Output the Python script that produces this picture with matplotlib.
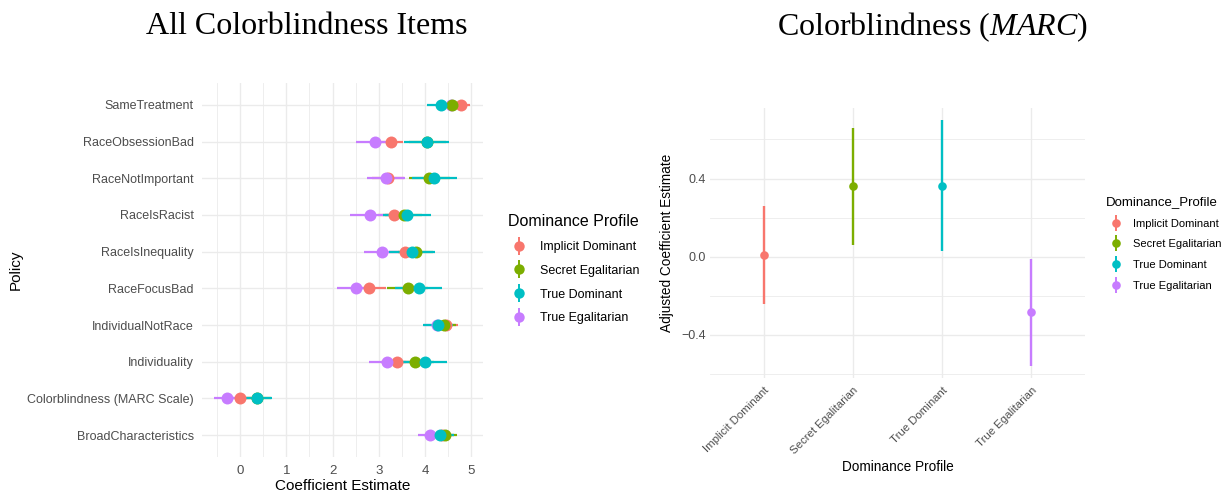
import matplotlib
matplotlib.use('Agg')
import matplotlib.pyplot as plt
from matplotlib.lines import Line2D
from matplotlib.legend_handler import HandlerTuple
from matplotlib.ticker import FixedLocator

plt.rcParams['font.family'] = ['Liberation Sans', 'DejaVu Sans']
plt.rcParams['mathtext.fontset'] = 'custom'
plt.rcParams['mathtext.rm'] = 'Liberation Serif'
plt.rcParams['mathtext.it'] = 'Liberation Serif:italic'

# ---------------- data ----------------
policies = ["SameTreatment", "RaceObsessionBad", "RaceNotImportant", "RaceIsRacist",
            "RaceIsInequality", "RaceFocusBad", "IndividualNotRace", "Individuality",
            "Colorblindness (MARC Scale)", "BroadCharacteristics"]
profiles = ["Implicit Dominant", "Secret Egalitarian", "True Dominant", "True Egalitarian"]
colors = ["#F8766D", "#7CAE00", "#00BFC4", "#C77CFF"]

est_implicit = [4.77, 3.26, 3.20, 3.33, 3.56, 2.78, 4.46, 3.40, 0.01, 4.37]
lo_implicit = [4.57, 3.00, 2.85, 2.98, 3.21, 2.41, 4.20, 3.05, -0.24, 4.12]
hi_implicit = [4.97, 3.52, 3.55, 3.68, 3.91, 3.15, 4.72, 3.75, 0.26, 4.62]

est_secret = [4.59, 4.05, 4.09, 3.54, 3.80, 3.62, 4.41, 3.79, 0.36, 4.43]
lo_secret = [4.37, 3.65, 3.65, 3.14, 3.42, 3.17, 4.16, 3.39, 0.06, 4.17]
hi_secret = [4.81, 4.45, 4.53, 3.94, 4.18, 4.07, 4.66, 4.19, 0.66, 4.69]

est_truedom = [4.35, 4.03, 4.20, 3.61, 3.71, 3.86, 4.28, 3.99, 0.36, 4.32]
lo_truedom = [4.03, 3.54, 3.71, 3.09, 3.21, 3.35, 3.95, 3.50, 0.03, 4.02]
hi_truedom = [4.67, 4.52, 4.69, 4.13, 4.21, 4.37, 4.61, 4.48, 0.70, 4.62]

est_trueegal = [4.55, 2.91, 3.15, 2.81, 3.06, 2.51, 4.25, 3.18, -0.28, 4.10]
lo_trueegal = [4.30, 2.51, 2.74, 2.38, 2.68, 2.10, 3.97, 2.78, -0.56, 3.85]
hi_trueegal = [4.80, 3.31, 3.56, 3.24, 3.44, 2.92, 4.53, 3.58, -0.01, 4.35]

marc_est = [0.01, 0.36, 0.36, -0.28]
marc_lo = [-0.24, 0.06, 0.03, -0.56]
marc_hi = [0.26, 0.66, 0.70, -0.01]

left_xticks = [0, 1, 2, 3, 4, 5]
right_yticks = [-0.4, 0.0, 0.4]
right_yticklabels = ["\u22120.4", "0.0", "0.4"]

series = {
    "Implicit Dominant": (est_implicit, lo_implicit, hi_implicit),
    "Secret Egalitarian": (est_secret, lo_secret, hi_secret),
    "True Dominant": (est_truedom, lo_truedom, hi_truedom),
    "True Egalitarian": (est_trueegal, lo_trueegal, hi_trueegal),
}
draw_order = ["Implicit Dominant", "True Egalitarian", "Secret Egalitarian", "True Dominant"]

GRID = "#EBEBEB"
TXT = "#4D4D4D"
W, H = 1228, 496

fig = plt.figure(figsize=(W / 100, H / 100), dpi=100)

# ---------------- left panel ----------------
axL = fig.add_axes([202 / W, 1 - 457 / H, 281 / W, 374 / H])
ypos = list(range(len(policies)))
for p in draw_order:
    i = profiles.index(p)
    e, lo, hi = series[p]
    axL.hlines(ypos, lo, hi, color=colors[i], lw=1.6, zorder=2)
for p in draw_order:
    i = profiles.index(p)
    e, lo, hi = series[p]
    axL.plot(e, ypos, 'o', color=colors[i], ms=8.6, mew=0, zorder=3)

axL.set_xlim(-0.82, 5.25)
axL.set_ylim(len(policies) - 0.4, -0.6)
axL.set_yticks(ypos)
axL.set_yticklabels(policies)
axL.xaxis.set_major_locator(FixedLocator(left_xticks))
axL.xaxis.set_minor_locator(FixedLocator([-0.5, 0.5, 1.5, 2.5, 3.5, 4.5]))
axL.grid(which='major', color=GRID, lw=1.0, zorder=0)
axL.grid(which='minor', axis='x', color=GRID, lw=0.6, zorder=0)
axL.set_axisbelow(True)
for s in axL.spines.values():
    s.set_visible(False)
axL.tick_params(which='both', length=0)
axL.tick_params(axis='x', labelsize=9.5, labelcolor=TXT, pad=6)
axL.tick_params(axis='y', labelsize=9, labelcolor=TXT, pad=6)
axL.set_xlabel("Coefficient Estimate", fontsize=11, labelpad=1)
axL.set_ylabel("Policy", fontsize=11, labelpad=3)

# ---------------- right panel ----------------
axR = fig.add_axes([710 / W, 1 - 378 / H, 375 / W, 270 / H])
xpos = [1, 2, 3, 4]
for i in range(len(profiles)):
    axR.vlines(xpos[i], marc_lo[i], marc_hi[i], color=colors[i], lw=1.7, zorder=2)
    axR.plot(xpos[i], marc_est[i], 'o', color=colors[i], ms=6.2, mew=0, zorder=3)
axR.set_xlim(0.4, 4.6)
axR.set_ylim(-0.62, 0.761)
axR.set_xticks(xpos)
axR.set_xticklabels(profiles, rotation=45, ha='right', va='top', rotation_mode='anchor')
axR.yaxis.set_major_locator(FixedLocator(right_yticks))
axR.set_yticklabels(right_yticklabels)
axR.yaxis.set_minor_locator(FixedLocator([-0.6, -0.2, 0.2, 0.6]))
axR.grid(which='major', color=GRID, lw=1.0, zorder=0)
axR.grid(which='minor', axis='y', color=GRID, lw=0.6, zorder=0)
axR.set_axisbelow(True)
for s in axR.spines.values():
    s.set_visible(False)
axR.tick_params(which='both', length=0)
axR.tick_params(axis='x', labelsize=8.2, labelcolor=TXT, pad=5)
axR.tick_params(axis='y', labelsize=9, labelcolor=TXT, pad=3)
axR.set_xlabel("Dominance Profile", fontsize=9.8, labelpad=3)
axR.set_ylabel("Adjusted Coefficient Estimate", fontsize=9.8, labelpad=5)

# ---------------- legends ----------------
def handles(ms_pt, bar_pt):
    hs = []
    for c in colors:
        bar = Line2D([], [], marker='|', ms=bar_pt, mew=1.4, color=c, ls='None')
        dot = Line2D([], [], marker='o', ms=ms_pt, mew=0, color=c, ls='None')
        hs.append((bar, dot))
    return hs

legL = fig.legend(handles(7.5, 13), profiles, loc='upper left',
                  bbox_to_anchor=(508 / W, 1 - 214 / H), frameon=False,
                  title="Dominance Profile", title_fontsize=11.5, fontsize=9,
                  alignment='left', handlelength=1.8, handletextpad=0.75,
                  labelspacing=0.95, borderpad=0, borderaxespad=0,
                  handler_map={tuple: HandlerTuple(ndivide=1)})

legR = fig.legend(handles(6.2, 11), profiles, loc='upper left',
                  bbox_to_anchor=(1106 / W, 1 - 196 / H), frameon=False,
                  title="Dominance_Profile", title_fontsize=9.5, fontsize=8,
                  alignment='left', handlelength=1.8, handletextpad=0.6,
                  labelspacing=0.96, borderpad=0, borderaxespad=0,
                  handler_map={tuple: HandlerTuple(ndivide=1)})

# ---------------- titles ----------------
fig.text(307 / W, 1 - 27 / H, "All Colorblindness Items", ha='center', va='center',
         family='Liberation Serif', fontsize=23)
fig.text(932 / W, 1 - 27 / H, r"Colorblindness ($\mathit{MARC}$)", ha='center', va='center',
         family='Liberation Serif', fontsize=23)

fig.savefig("out.png", dpi=100)
